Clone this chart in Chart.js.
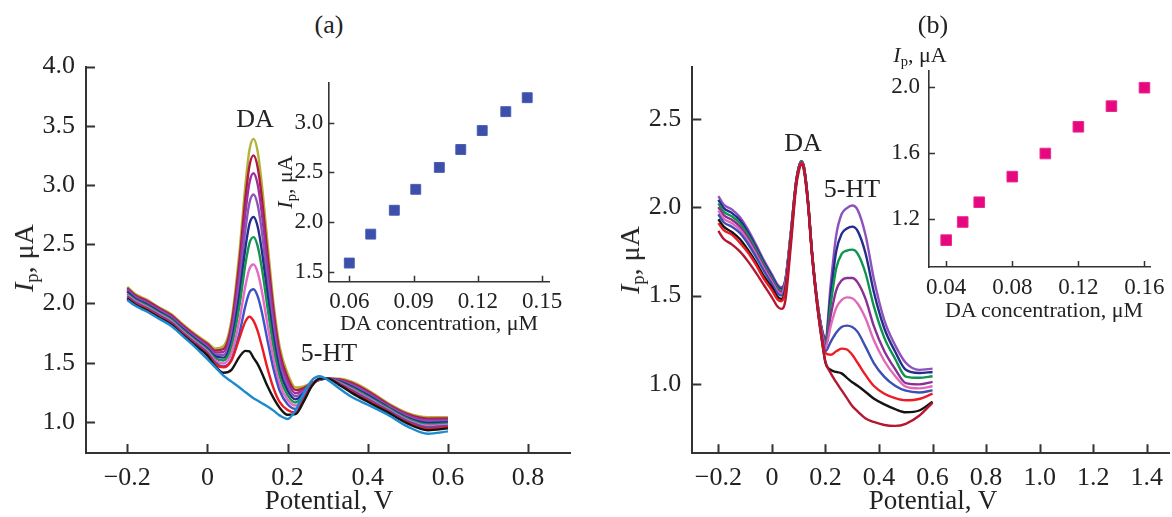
<!DOCTYPE html>
<html>
<head>
<meta charset="utf-8">
<script src="https://cdn.jsdelivr.net/npm/chart.js@4.4.1/dist/chart.umd.min.js"></script>
<style>
  html, body { margin: 0; padding: 0; background: #fff; }
  #wrap { position: relative; width: 1172px; height: 517px; overflow: hidden;
    font-family: "Liberation Serif", "DejaVu Serif", serif; color: #222; }
  canvas { position: absolute; }
  .lbl { position: absolute; white-space: nowrap; line-height: 1; transform: translate(-50%, -50%); }
  .rot { transform: translate(-50%, -50%) rotate(-90deg); }
  .sub { font-size: 66%; position: relative; top: 0.28em; }
</style>
</head>
<body>
<div id="wrap">
  <canvas id="mainA" style="left:0;top:40px" width="590" height="477"></canvas>
  <canvas id="insetA" style="left:260px;top:60px" width="310" height="280"></canvas>
  <canvas id="mainB" style="left:600px;top:40px" width="572" height="477"></canvas>
  <canvas id="insetB" style="left:870px;top:40px" width="302" height="300"></canvas>

  <div class="lbl" style="left:329px;top:25px;font-size:26px">(a)</div>
  <div class="lbl" style="left:933px;top:25px;font-size:26px">(b)</div>
  <div class="lbl" style="left:255px;top:119px;font-size:26px">DA</div>
  <div class="lbl" style="left:329px;top:353px;font-size:26px">5-HT</div>
  <div class="lbl" style="left:803px;top:143px;font-size:26px">DA</div>
  <div class="lbl" style="left:852px;top:189px;font-size:26px">5-HT</div>

  <div class="lbl rot" style="left:24px;top:258px;font-size:28px"><i>I</i><span class="sub">p</span>, μA</div>
  <div class="lbl" style="left:329px;top:500px;font-size:27px">Potential, V</div>
  <div class="lbl rot" style="left:630px;top:260px;font-size:28px"><i>I</i><span class="sub">p</span>, μA</div>
  <div class="lbl" style="left:933px;top:500px;font-size:27px">Potential, V</div>

  <div class="lbl rot" style="left:285px;top:182px;font-size:22px"><i>I</i><span class="sub">p</span>, μA</div>
  <div class="lbl" style="left:439px;top:323px;font-size:22px">DA concentration, μM</div>
  <div class="lbl" style="left:920px;top:55px;font-size:22px"><i>I</i><span class="sub">p</span>, μA</div>
  <div class="lbl" style="left:1044px;top:310px;font-size:22px">DA concentration, μM</div>
</div>

<script>
const FONT = '"Liberation Serif", "DejaVu Serif", serif';

// (a) potentials and DPV curves, one array per trace
const A_X = [-0.2, -0.18, -0.15, -0.12, -0.09, -0.06, -0.03, 0, 0.02, 0.04, 0.06, 0.08, 0.095, 0.105, 0.115,
  0.125, 0.135, 0.15, 0.165, 0.18, 0.2, 0.22, 0.24, 0.26, 0.28, 0.3, 0.33, 0.36, 0.4, 0.45, 0.5, 0.55, 0.6];
const aBlank = [2.03, 1.98, 1.93, 1.87, 1.81, 1.72, 1.63, 1.53, 1.46, 1.39, 1.34, 1.29, 1.25, 1.225, 1.2,
  1.18, 1.16, 1.13, 1.095, 1.055, 1.025, 1.1, 1.24, 1.35, 1.385, 1.355, 1.28, 1.21, 1.145, 1.06, 0.96, 0.9, 0.92];
const aBlack = [2.04, 1.99, 1.94, 1.88, 1.82, 1.73, 1.645, 1.56, 1.47, 1.415, 1.44, 1.55, 1.6, 1.595, 1.54,
  1.49, 1.42, 1.3, 1.2, 1.12, 1.06, 1.065, 1.17, 1.3, 1.365, 1.365, 1.31, 1.245, 1.17, 1.08, 0.985, 0.93, 0.945];
const aRed = [2.05, 2.0, 1.95, 1.89, 1.83, 1.74, 1.656, 1.572, 1.487, 1.46, 1.52, 1.71, 1.85, 1.888, 1.853,
  1.77, 1.65, 1.45, 1.283, 1.169, 1.1, 1.08, 1.184, 1.303, 1.364, 1.365, 1.316, 1.256, 1.181, 1.089, 0.995, 0.942, 0.956];
const aBlue = [2.06, 2.01, 1.96, 1.9, 1.84, 1.75, 1.666, 1.584, 1.5, 1.468, 1.526, 1.751, 1.984, 2.094, 2.12,
  2.064, 1.939, 1.686, 1.444, 1.265, 1.149, 1.11, 1.199, 1.307, 1.363, 1.365, 1.322, 1.266, 1.192, 1.098, 1.005, 0.954, 0.966];
const aPink = [2.07, 2.02, 1.97, 1.91, 1.85, 1.76, 1.677, 1.597, 1.518, 1.493, 1.58, 1.862, 2.153, 2.293, 2.33,
  2.266, 2.118, 1.82, 1.533, 1.323, 1.187, 1.138, 1.213, 1.31, 1.362, 1.365, 1.328, 1.277, 1.203, 1.107, 1.015, 0.967, 0.977];
const aGreen = [2.08, 2.03, 1.98, 1.92, 1.86, 1.77, 1.687, 1.609, 1.535, 1.519, 1.635, 1.983, 2.337, 2.51, 2.56,
  2.488, 2.315, 1.964, 1.628, 1.383, 1.227, 1.164, 1.228, 1.313, 1.36, 1.365, 1.334, 1.287, 1.214, 1.116, 1.025, 0.979, 0.987];
const aNavy = [2.1, 2.04, 1.99, 1.93, 1.87, 1.78, 1.698, 1.621, 1.553, 1.543, 1.681, 2.077, 2.475, 2.673, 2.73,
  2.654, 2.463, 2.075, 1.706, 1.436, 1.263, 1.19, 1.242, 1.317, 1.359, 1.365, 1.341, 1.298, 1.226, 1.124, 1.035, 0.991, 0.998];
const aPurple = [2.11, 2.05, 2.0, 1.94, 1.88, 1.79, 1.708, 1.633, 1.569, 1.567, 1.73, 2.179, 2.628, 2.852, 2.92,
  2.837, 2.627, 2.197, 1.788, 1.49, 1.301, 1.216, 1.257, 1.32, 1.358, 1.365, 1.347, 1.308, 1.237, 1.133, 1.045, 1.003, 1.008];
const aMagenta = [2.12, 2.06, 2.01, 1.95, 1.89, 1.8, 1.719, 1.645, 1.586, 1.592, 1.779, 2.276, 2.773, 3.022, 3.1,
  3.011, 2.782, 2.313, 1.868, 1.543, 1.338, 1.242, 1.271, 1.323, 1.357, 1.365, 1.353, 1.319, 1.248, 1.142, 1.055, 1.016, 1.019];
const aCrimson = [2.13, 2.07, 2.02, 1.96, 1.9, 1.81, 1.729, 1.658, 1.603, 1.615, 1.821, 2.359, 2.896, 3.165, 3.25,
  3.157, 2.912, 2.412, 1.938, 1.592, 1.374, 1.268, 1.286, 1.327, 1.356, 1.365, 1.359, 1.329, 1.259, 1.151, 1.065, 1.028, 1.029];
const aOlive = [2.14, 2.08, 2.03, 1.965, 1.91, 1.82, 1.74, 1.67, 1.62, 1.64, 1.86, 2.44, 3.01, 3.3, 3.39,
  3.29, 3.03, 2.51, 2.0, 1.64, 1.41, 1.29, 1.3, 1.33, 1.355, 1.365, 1.365, 1.34, 1.27, 1.16, 1.075, 1.04, 1.04];

// (a) inset: DA peak current vs concentration
const insetA_conc = [0.06, 0.07, 0.081, 0.091, 0.102, 0.112, 0.122, 0.133, 0.143];
const insetA_ip = [1.59, 1.88, 2.12, 2.33, 2.55, 2.73, 2.92, 3.11, 3.25];

// (b) potentials and curves
const B_X = [-0.2, -0.18, -0.15, -0.12, -0.09, -0.06, -0.03, 0, 0.02, 0.035, 0.05, 0.07, 0.09, 0.1, 0.11,
  0.12, 0.135, 0.15, 0.17, 0.19, 0.2, 0.22, 0.24, 0.26, 0.28, 0.3, 0.32, 0.35, 0.38, 0.42, 0.46, 0.5, 0.55, 0.6];
const bCrimson = [1.866, 1.82, 1.79, 1.75, 1.695, 1.63, 1.56, 1.49, 1.44, 1.425, 1.47, 1.77, 2.11, 2.2, 2.24,
  2.205, 2.01, 1.725, 1.43, 1.21, 1.125, 1.06, 1.01, 0.965, 0.92, 0.875, 0.845, 0.805, 0.785, 0.768, 0.763, 0.775, 0.82, 0.895];
const bBlack = [1.932, 1.89, 1.86, 1.82, 1.76, 1.69, 1.61, 1.547, 1.495, 1.481, 1.53, 1.81, 2.13, 2.215, 2.25,
  2.215, 2.02, 1.73, 1.44, 1.215, 1.12, 1.08, 1.068, 1.06, 1.035, 1.01, 0.99, 0.955, 0.918, 0.885, 0.858, 0.84, 0.85, 0.9];
const bRed = [1.91, 1.87, 1.845, 1.8, 1.745, 1.675, 1.595, 1.53, 1.48, 1.468, 1.52, 1.805, 2.13, 2.215, 2.25,
  2.215, 2.02, 1.73, 1.44, 1.225, 1.175, 1.165, 1.185, 1.2, 1.195, 1.165, 1.12, 1.05, 0.99, 0.945, 0.92, 0.908, 0.915, 0.945];
const bBlue = [1.96, 1.915, 1.89, 1.855, 1.795, 1.72, 1.64, 1.565, 1.515, 1.5, 1.55, 1.825, 2.135, 2.22, 2.255,
  2.22, 2.025, 1.735, 1.445, 1.245, 1.185, 1.24, 1.29, 1.322, 1.33, 1.322, 1.295, 1.21, 1.12, 1.04, 0.99, 0.962, 0.952, 0.964];
const bPink = [1.981, 1.935, 1.91, 1.873, 1.811, 1.734, 1.652, 1.576, 1.525, 1.509, 1.57, 1.835, 2.135, 2.22, 2.255,
  2.22, 2.025, 1.735, 1.45, 1.26, 1.205, 1.33, 1.43, 1.475, 1.49, 1.485, 1.455, 1.37, 1.25, 1.13, 1.045, 0.985, 0.975, 0.987];
const bPurple = [2.001, 1.955, 1.929, 1.891, 1.827, 1.748, 1.664, 1.587, 1.535, 1.519, 1.575, 1.84, 2.14, 2.225, 2.255,
  2.22, 2.03, 1.74, 1.455, 1.27, 1.22, 1.39, 1.53, 1.585, 1.6, 1.6, 1.575, 1.48, 1.33, 1.185, 1.085, 1.005, 0.998, 1.012];
const bGreen = [2.022, 1.975, 1.949, 1.909, 1.843, 1.762, 1.676, 1.598, 1.545, 1.528, 1.58, 1.84, 2.14, 2.225, 2.26,
  2.225, 2.03, 1.74, 1.455, 1.28, 1.24, 1.456, 1.653, 1.735, 1.755, 1.76, 1.738, 1.625, 1.443, 1.261, 1.143, 1.042, 1.035, 1.044];
const bNavy = [2.042, 1.995, 1.968, 1.927, 1.859, 1.776, 1.688, 1.609, 1.555, 1.538, 1.585, 1.845, 2.14, 2.225, 2.26,
  2.225, 2.03, 1.74, 1.46, 1.285, 1.25, 1.514, 1.749, 1.849, 1.879, 1.89, 1.866, 1.737, 1.525, 1.314, 1.184, 1.08, 1.062, 1.068];
const bViolet = [2.063, 2.015, 1.988, 1.945, 1.875, 1.79, 1.7, 1.62, 1.565, 1.547, 1.59, 1.85, 2.14, 2.225, 2.26,
  2.225, 2.03, 1.74, 1.46, 1.29, 1.265, 1.57, 1.84, 1.96, 1.995, 2.01, 1.985, 1.84, 1.6, 1.36, 1.22, 1.12, 1.08, 1.087];

// (b) inset
const insetB_conc = [0.04, 0.05, 0.06, 0.08, 0.1, 0.12, 0.14, 0.16];
const insetB_ip = [1.07, 1.18, 1.3, 1.455, 1.595, 1.757, 1.882, 1.994];

// tick values and their labels
const A_XTICKS = [-0.2, 0, 0.2, 0.4, 0.6, 0.8];
const A_XLABELS = ["−0.2", "0", "0.2", "0.4", "0.6", "0.8"];
const A_YTICKS = [1.0, 1.5, 2.0, 2.5, 3.0, 3.5, 4.0];
const A_YLABELS = ["1.0", "1.5", "2.0", "2.5", "3.0", "3.5", "4.0"];
const IA_XTICKS = [0.06, 0.09, 0.12, 0.15];
const IA_XLABELS = ["0.06", "0.09", "0.12", "0.15"];
const IA_YTICKS = [1.5, 2.0, 2.5, 3.0];
const IA_YLABELS = ["1.5", "2.0", "2.5", "3.0"];
const B_XTICKS = [-0.2, 0, 0.2, 0.4, 0.6, 0.8, 1.0, 1.2, 1.4];
const B_XLABELS = ["−0.2", "0", "0.2", "0.4", "0.6", "0.8", "1.0", "1.2", "1.4"];
const B_YTICKS = [1.0, 1.5, 2.0, 2.5];
const B_YLABELS = ["1.0", "1.5", "2.0", "2.5"];
const IB_XTICKS = [0.04, 0.08, 0.12, 0.16];
const IB_XLABELS = ["0.04", "0.08", "0.12", "0.16"];
const IB_YTICKS = [1.2, 1.6, 2.0];
const IB_YLABELS = ["1.2", "1.6", "2.0"];

// ticks pointing into the plot, like the original figure
const inTicks = {
  id: "inTicks",
  afterDraw(chart, args, opts) {
    const { ctx, chartArea } = chart;
    const sx = chart.scales.x;
    const sy = chart.scales.y;
    ctx.save();
    ctx.strokeStyle = "#333";
    ctx.lineWidth = opts.width;
    ctx.beginPath();
    sx.ticks.forEach((t) => {
      const px = Math.round(sx.getPixelForValue(t.value)) + 0.5;
      ctx.moveTo(px, chartArea.bottom);
      ctx.lineTo(px, chartArea.bottom - opts.len);
    });
    sy.ticks.forEach((t) => {
      const py = Math.round(sy.getPixelForValue(t.value)) + 0.5;
      ctx.moveTo(chartArea.left, py);
      ctx.lineTo(chartArea.left + opts.len, py);
    });
    ctx.stroke();
    ctx.restore();
  },
};

function axis(min, max, ticks, labels, o) {
  return {
    type: "linear",
    min: min,
    max: max,
    afterBuildTicks: (s) => {
      s.ticks = ticks.map((v) => ({ value: v }));
    },
    afterFit: (s) => {
      if (o.w) s.width = o.w;
      if (o.h) s.height = o.h;
    },
    ticks: {
      autoSkip: false,
      maxRotation: 0,
      padding: o.pad,
      color: "#222",
      font: { family: FONT, size: o.fs },
      callback: (v, i) => labels[i],
    },
    grid: { display: false, drawTicks: false },
    border: { display: true, color: "#333", width: o.bw },
  };
}

function curve(xs, ys, color) {
  return {
    data: xs.map((x, i) => ({ x: x, y: ys[i] })),
    showLine: true,
    borderColor: color,
    borderWidth: 2.4,
    pointRadius: 0,
    cubicInterpolationMode: "monotone",
    fill: false,
  };
}

function makeChart(id, datasets, scales, padding, tickOpts) {
  return new Chart(document.getElementById(id), {
    type: "scatter",
    data: { datasets: datasets },
    options: {
      responsive: false,
      animation: false,
      devicePixelRatio: 1,
      layout: { padding: padding },
      plugins: { legend: { display: false }, tooltip: { enabled: false }, inTicks: tickOpts },
      scales: scales,
    },
    plugins: [inTicks],
  });
}

// index 0 is painted last (on top)
makeChart(
  "mainA",
  [
    curve(A_X, aBlank, "#1b8ad0"),
    curve(A_X, aBlack, "#141414"),
    curve(A_X, aRed, "#ec1c24"),
    curve(A_X, aBlue, "#3f51c3"),
    curve(A_X, aPink, "#e668c4"),
    curve(A_X, aGreen, "#12964e"),
    curve(A_X, aNavy, "#252c8c"),
    curve(A_X, aPurple, "#8b55b8"),
    curve(A_X, aMagenta, "#9c2f9b"),
    curve(A_X, aCrimson, "#b01a42"),
    curve(A_X, aOlive, "#b3b335"),
  ],
  {
    x: axis(-0.3029, 0.906, A_XTICKS, A_XLABELS, { h: 64, pad: 10, fs: 26, bw: 2 }),
    y: axis(0.7374, 4.0, A_YTICKS, A_YLABELS, { w: 86, pad: 11, fs: 26, bw: 2 }),
  },
  { top: 24, right: 19.4, left: 0, bottom: 0 },
  { len: 9, width: 2 }
);

makeChart(
  "insetA",
  [
    {
      data: insetA_conc.map((x, i) => ({ x: x, y: insetA_ip[i] })),
      pointStyle: "rect",
      pointRadius: 7,
      backgroundColor: "#3c4fa9",
      borderColor: "#4a5db5",
      borderWidth: 1,
    },
  ],
  {
    x: axis(0.0502, 0.1533, IA_XTICKS, IA_XLABELS, { h: 58.3, pad: 6, fs: 23, bw: 1.6 }),
    y: axis(1.4026, 3.4006, IA_YTICKS, IA_YLABELS, { w: 68.3, pad: 5, fs: 23, bw: 1.6 }),
  },
  { top: 22.7, right: 20.7, left: 0, bottom: 0 },
  { len: 6, width: 1.5 }
);

makeChart(
  "mainB",
  [
    curve(B_X, bCrimson, "#b51731"),
    curve(B_X, bRed, "#ec1c24"),
    curve(B_X, bBlack, "#141414"),
    curve(B_X, bBlue, "#3b4fb6"),
    curve(B_X, bPink, "#e06ab8"),
    curve(B_X, bPurple, "#8c2f93"),
    curve(B_X, bGreen, "#0f9450"),
    curve(B_X, bNavy, "#252c8c"),
    curve(B_X, bViolet, "#8d52bb"),
  ],
  {
    x: axis(-0.2974, 1.4859, B_XTICKS, B_XLABELS, { h: 63.7, pad: 9, fs: 26, bw: 2 }),
    y: axis(0.6079, 2.7955, B_YTICKS, B_YLABELS, { w: 92.3, pad: 11, fs: 26, bw: 2 }),
  },
  { top: 25, right: 0, left: 0, bottom: 0 },
  { len: 9, width: 2 }
);

makeChart(
  "insetB",
  [
    {
      data: insetB_conc.map((x, i) => ({ x: x, y: insetB_ip[i] })),
      pointStyle: "rect",
      pointRadius: 7.5,
      backgroundColor: "#e6087f",
      borderColor: "#ea2a8e",
      borderWidth: 1,
    },
  ],
  {
    x: axis(0.0296, 0.1639, IB_XTICKS, IB_XLABELS, { h: 73, pad: 7, fs: 23, bw: 1.6 }),
    y: axis(0.9073, 2.097, IB_YTICKS, IB_YLABELS, { w: 59, pad: 9, fs: 23, bw: 1.6 }),
  },
  { top: 30.7, right: 13.7, left: 0, bottom: 0 },
  { len: 6, width: 1.5 }
);
</script>
</body>
</html>
